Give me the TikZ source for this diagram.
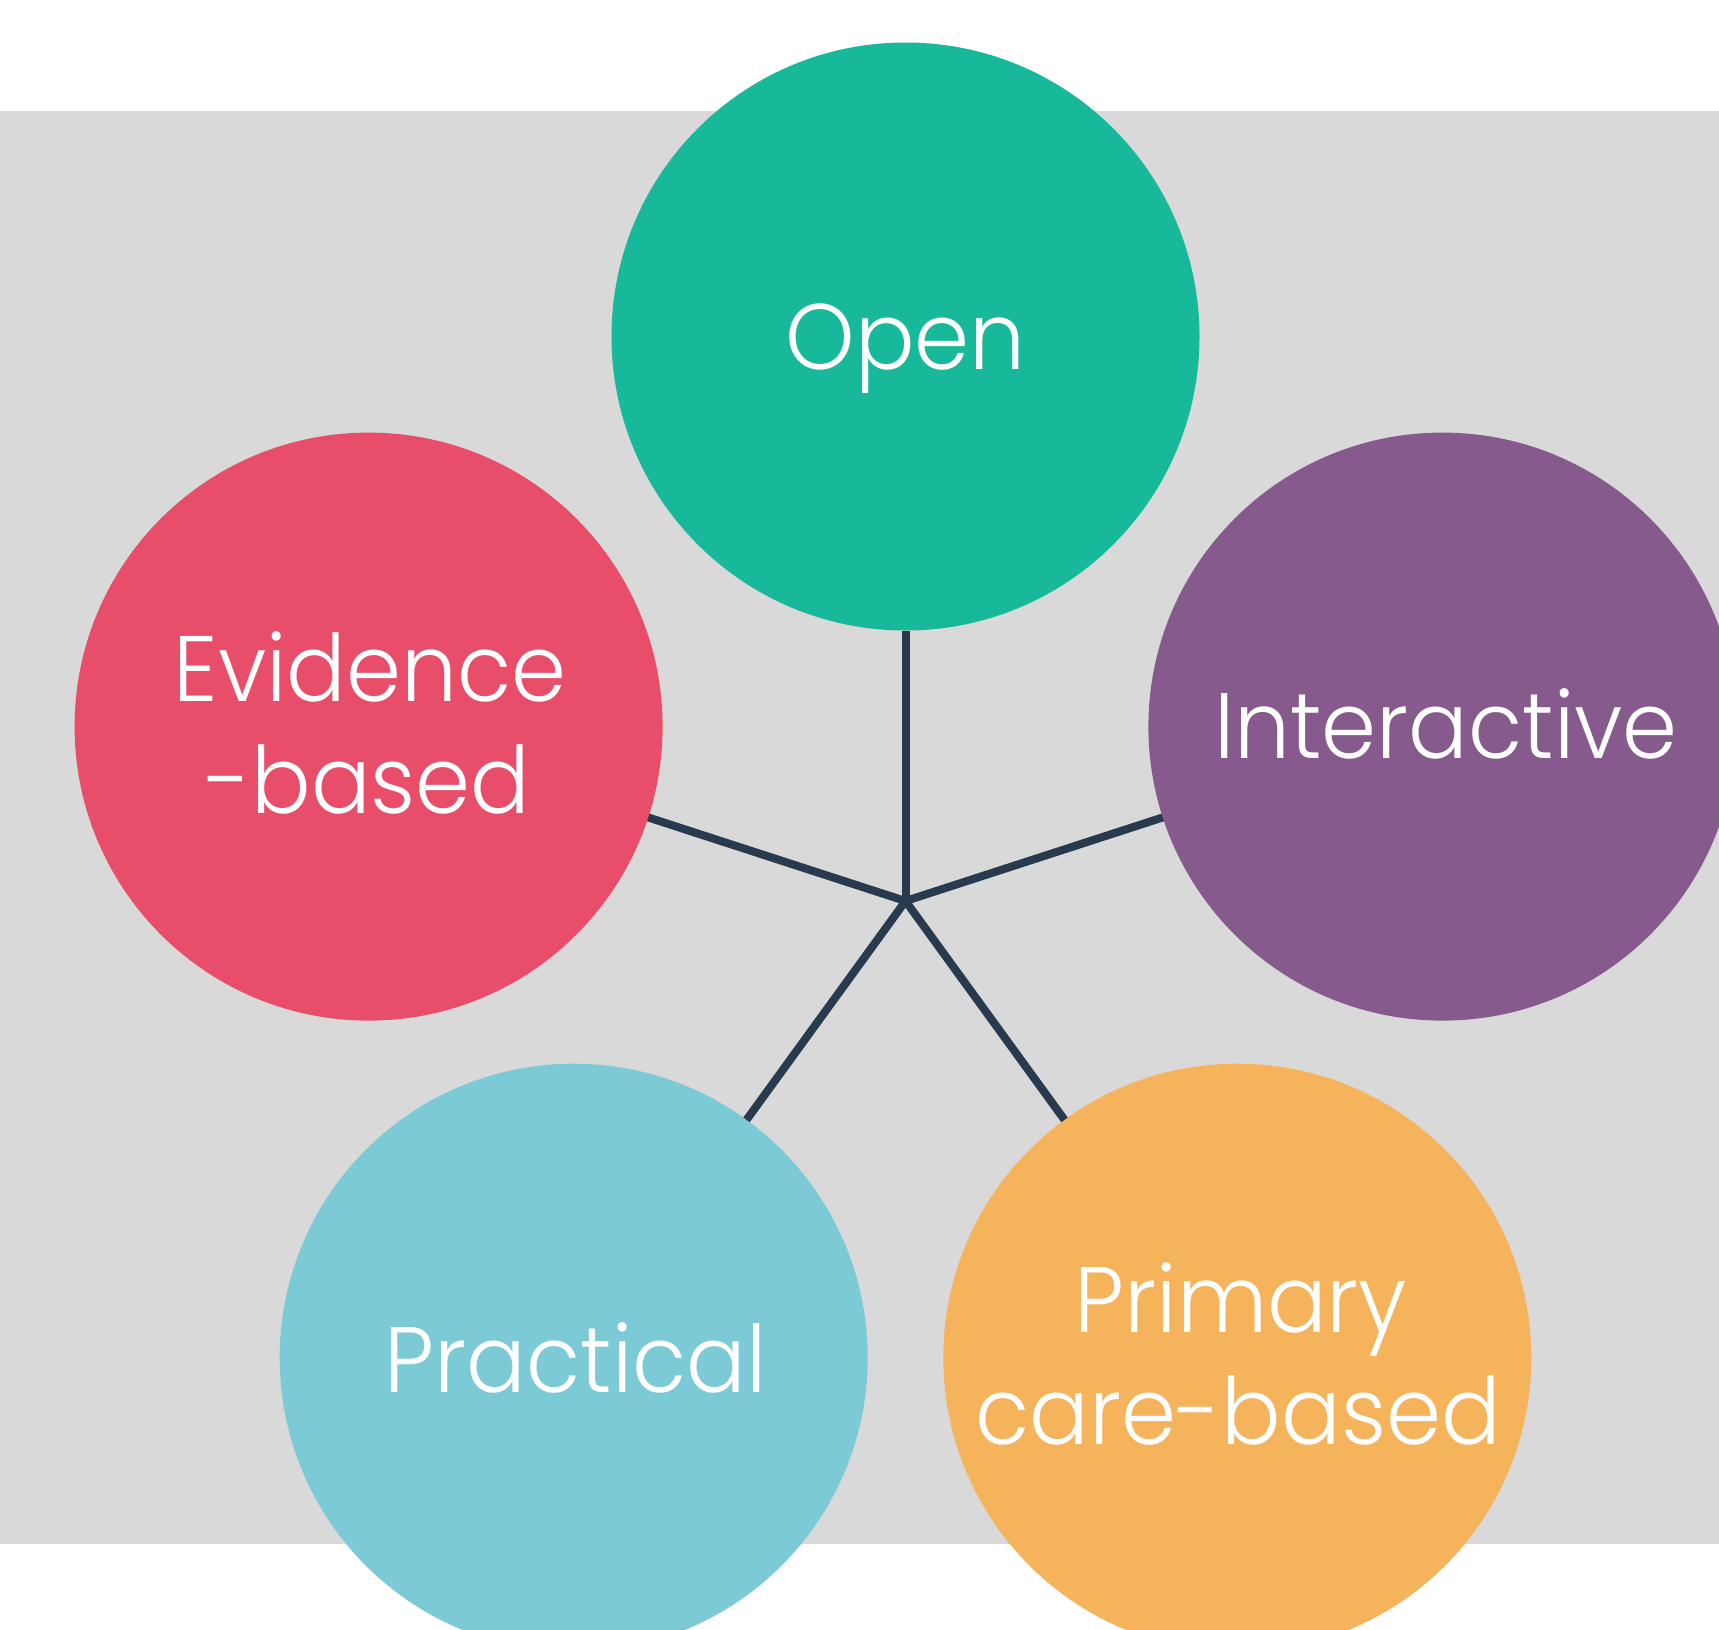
\documentclass[tikz,border=0pt]{standalone}
\usepackage{fontspec}
\setmainfont{Poppins}[UprightFont=* Light, FakeStretch=0.95]
\definecolor{bggray}{HTML}{D9D9D9}
\definecolor{cteal}{HTML}{17B99A}
\definecolor{cred}{HTML}{E84E69}
\definecolor{cpurple}{HTML}{865A8C}
\definecolor{cblue}{HTML}{7BCAD5}
\definecolor{corange}{HTML}{F5B35C}
\definecolor{cline}{HTML}{283A4D}
\tikzset{
  bubble/.style={circle, minimum size=588pt, inner sep=0pt, outer sep=0pt, draw=none},
  lbl/.style={text=white, inner sep=0pt, anchor=base, font=\fontsize{93}{112}\selectfont},
  spoke/.style={draw=cline, line width=8pt}
}
\begin{document}
\begin{tikzpicture}[x=1pt,y=-1pt]
\clip (0,0) rectangle (1719,1630);
\fill[white] (0,0) rectangle (1719,1630);
\fill[bggray] (0,111) rectangle (1719,1544);
\coordinate (hub) at (905.5,901);
\node[bubble, fill=cteal] (open) at (905.5,336.5) {};
\node[bubble, fill=cred] (evid) at (368.6,726.6) {};
\node[bubble, fill=cpurple] (inter) at (1442.4,726.6) {};
\node[bubble, fill=cblue] (pract) at (573.7,1357.7) {};
\node[bubble, fill=corange] (prim) at (1237.3,1357.7) {};
\draw[spoke] (hub) -- (open);
\draw[spoke] (hub) -- (evid);
\draw[spoke] (hub) -- (inter);
\draw[spoke] (hub) -- (pract);
\draw[spoke] (hub) -- (prim);
\node[lbl] (openT) at (905.5,369.5) {Open};
\node[lbl] (evidT1) at (370,701.6) {Evidence};
\node[lbl] (evidT2) at (368,813.5) {-based};
\node[lbl] (interT) at (1446,758.6) {Interactive};
\node[lbl] (practT) at (575.6,1392) {Practical};
\node[lbl] (primT1) at (1241,1332) {Primary};
\node[lbl] (primT2) at (1238,1444) {care-based};
\end{tikzpicture}
\end{document}
